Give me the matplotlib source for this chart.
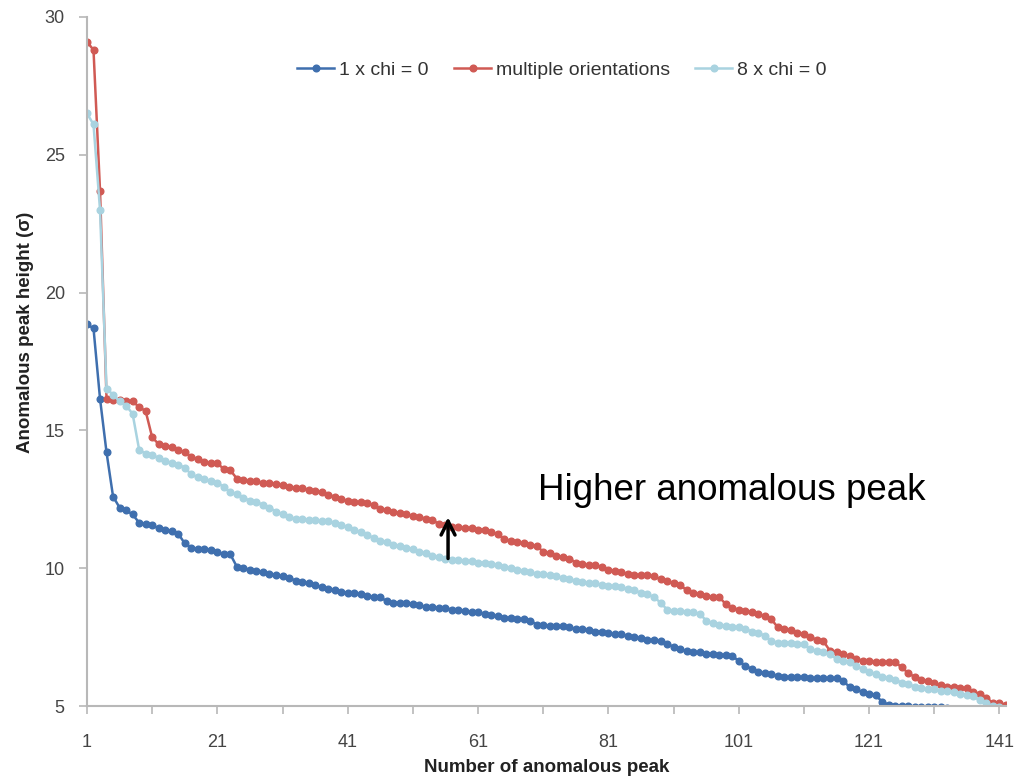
import numpy as np
import matplotlib
matplotlib.use("Agg")
import matplotlib.pyplot as plt
from matplotlib.ticker import FixedLocator

plt.rcParams['font.family'] = ['Liberation Sans', 'DejaVu Sans']

# 1 x chi = 0
chi1 = [18.85, 18.7, 16.15, 14.2, 12.6, 12.2, 12.1, 11.95, 11.65, 11.6,
        11.55, 11.45, 11.4, 11.35, 11.25, 10.9, 10.75, 10.7, 10.7, 10.65,
        10.6, 10.5, 10.5, 10.05, 10.0, 9.95, 9.9, 9.85, 9.8, 9.75,
        9.7, 9.65, 9.55, 9.5, 9.45, 9.4, 9.3, 9.25, 9.2, 9.15,
        9.1, 9.1, 9.05, 9.0, 8.95, 8.95, 8.8, 8.75, 8.75, 8.75,
        8.7, 8.65, 8.6, 8.6, 8.55, 8.55, 8.5, 8.5, 8.45, 8.4,
        8.4, 8.35, 8.3, 8.25, 8.2, 8.2, 8.15, 8.15, 8.1, 7.95,
        7.95, 7.9, 7.9, 7.9, 7.85, 7.8, 7.8, 7.75, 7.7, 7.7,
        7.65, 7.6, 7.6, 7.55, 7.5, 7.45, 7.4, 7.4, 7.35, 7.25,
        7.15, 7.05, 7.0, 6.95, 6.95, 6.9, 6.9, 6.85, 6.85, 6.8,
        6.65, 6.45, 6.35, 6.25, 6.2, 6.15, 6.1, 6.05, 6.05, 6.05,
        6.05, 6.0, 6.0, 6.0, 6.0, 6.0, 5.9, 5.7, 5.6, 5.5,
        5.45, 5.4, 5.15, 5.05, 5.0, 5.0, 5.0, 4.98, 4.97, 4.96,
        4.95, 4.95, 4.94]

# multiple orientations
multi = [29.1, 28.8, 23.7, 16.15, 16.1, 16.1, 16.05, 16.05, 15.85, 15.7,
         14.75, 14.5, 14.45, 14.4, 14.3, 14.2, 14.05, 13.95, 13.85, 13.8,
         13.8, 13.6, 13.55, 13.25, 13.2, 13.15, 13.15, 13.1, 13.1, 13.05,
         13.0, 12.95, 12.9, 12.9, 12.85, 12.8, 12.75, 12.65, 12.6, 12.5,
         12.45, 12.4, 12.4, 12.35, 12.3, 12.15, 12.1, 12.05, 12.0, 11.95,
         11.9, 11.85, 11.8, 11.75, 11.6, 11.55, 11.5, 11.5, 11.45, 11.45,
         11.4, 11.4, 11.3, 11.25, 11.05, 11.0, 10.95, 10.9, 10.85, 10.8,
         10.6, 10.55, 10.45, 10.4, 10.35, 10.2, 10.15, 10.1, 10.1, 10.05,
         9.95, 9.9, 9.85, 9.8, 9.75, 9.75, 9.75, 9.7, 9.6, 9.55,
         9.45, 9.4, 9.2, 9.1, 9.05, 9.0, 8.95, 8.95, 8.7, 8.55,
         8.5, 8.45, 8.4, 8.35, 8.25, 8.15, 7.85, 7.8, 7.75, 7.65,
         7.6, 7.5, 7.4, 7.35, 7.0, 6.95, 6.9, 6.8, 6.7, 6.65,
         6.65, 6.6, 6.6, 6.6, 6.6, 6.4, 6.2, 6.05, 5.95, 5.9,
         5.85, 5.75, 5.7, 5.7, 5.65, 5.65, 5.5, 5.45, 5.3, 5.1,
         5.1, 5.05]

# 8 x chi = 0
chi8 = [26.5, 26.1, 23.0, 16.5, 16.3, 16.05, 15.9, 15.6, 14.3, 14.15,
        14.1, 14.0, 13.9, 13.8, 13.75, 13.65, 13.4, 13.3, 13.25, 13.15,
        13.1, 12.95, 12.75, 12.7, 12.55, 12.45, 12.4, 12.3, 12.2, 12.05,
        11.95, 11.85, 11.8, 11.8, 11.75, 11.75, 11.7, 11.7, 11.65, 11.55,
        11.5, 11.4, 11.3, 11.2, 11.1, 11.0, 10.95, 10.85, 10.8, 10.75,
        10.7, 10.6, 10.55, 10.45, 10.4, 10.35, 10.3, 10.3, 10.25, 10.25,
        10.2, 10.2, 10.15, 10.1, 10.05, 10.0, 9.95, 9.9, 9.85, 9.8,
        9.8, 9.75, 9.7, 9.65, 9.6, 9.55, 9.5, 9.45, 9.45, 9.4,
        9.35, 9.35, 9.3, 9.25, 9.2, 9.1, 9.05, 8.95, 8.75, 8.5,
        8.45, 8.45, 8.4, 8.4, 8.35, 8.1, 8.0, 7.95, 7.9, 7.85,
        7.85, 7.8, 7.7, 7.65, 7.55, 7.35, 7.3, 7.3, 7.3, 7.25,
        7.25, 7.05, 7.0, 6.95, 6.9, 6.7, 6.65, 6.6, 6.45, 6.35,
        6.25, 6.15, 6.05, 6.0, 5.95, 5.85, 5.8, 5.7, 5.65, 5.6,
        5.6, 5.55, 5.55, 5.5, 5.45, 5.4, 5.35, 5.2, 5.1, 5.0,
        4.98]

x_labels = [1, 21, 41, 61, 81, 101, 121, 141]
y_ticks = [5, 10, 15, 20, 25, 30]

c_dark = "#3f6fae"
c_red = "#d05a54"
c_light = "#a9d3e0"
grey = "#b8b8b8"

fig = plt.figure(figsize=(10.15, 7.76), dpi=100)
ax = fig.add_axes([0.0857, 0.0902, 0.9054, 0.888])

series = [(chi1, c_dark, "1 x chi = 0"),
          (multi, c_red, "multiple orientations"),
          (chi8, c_light, "8 x chi = 0")]
for vals, col, lab in series:
    xs = np.arange(1, len(vals) + 1)
    ax.plot(xs, vals, "-o", color=col, lw=1.8, ms=4.8, mec=col, label=lab)

ax.set_xlim(1, 142)
ax.set_ylim(5, 30)
ax.set_yticks(y_ticks)
ax.set_xticks(x_labels)
ax.xaxis.set_minor_locator(FixedLocator([11, 31, 51, 71, 91, 111, 131]))

for s in ["top", "right"]:
    ax.spines[s].set_visible(False)
for s in ["left", "bottom"]:
    ax.spines[s].set_color(grey)
    ax.spines[s].set_linewidth(1.5)

ax.tick_params(axis="both", which="both", color=grey, width=1.2, labelcolor="#444444", labelsize=13)
ax.tick_params(axis="y", length=6, pad=10)
ax.tick_params(axis="x", which="major", length=6, pad=14)
ax.tick_params(axis="x", which="minor", length=6)

ax.set_xlabel("Number of anomalous peak", fontsize=13.5, fontweight="bold", color="#222222", labelpad=6)
fig.text(0.025, 1 - 332 / 776, "Anomalous peak height (\u03c3)", rotation=90, fontsize=13.5,
         fontweight="bold", color="#222222", ha="center", va="center")

leg = ax.legend(loc="center", bbox_to_anchor=(562 / 1015, 1 - 70 / 776), bbox_transform=fig.transFigure,
                ncol=3, frameon=False, fontsize=14, handlelength=1.9, columnspacing=1.3, handletextpad=0.25)
for t in leg.get_texts():
    t.set_color("#333333")

ax.text(1 + (538 - 87) / 6.52, 5 + (706 - 490) / 27.6, "Higher anomalous peak", fontsize=26.5,
        ha="left", va="center", color="black")
ax.annotate("", xy=(56.4, 11.95), xytext=(56.4, 10.25),
            arrowprops=dict(arrowstyle="->", color="black", lw=2.5, mutation_scale=25))

fig.savefig("out.png", dpi=100)
